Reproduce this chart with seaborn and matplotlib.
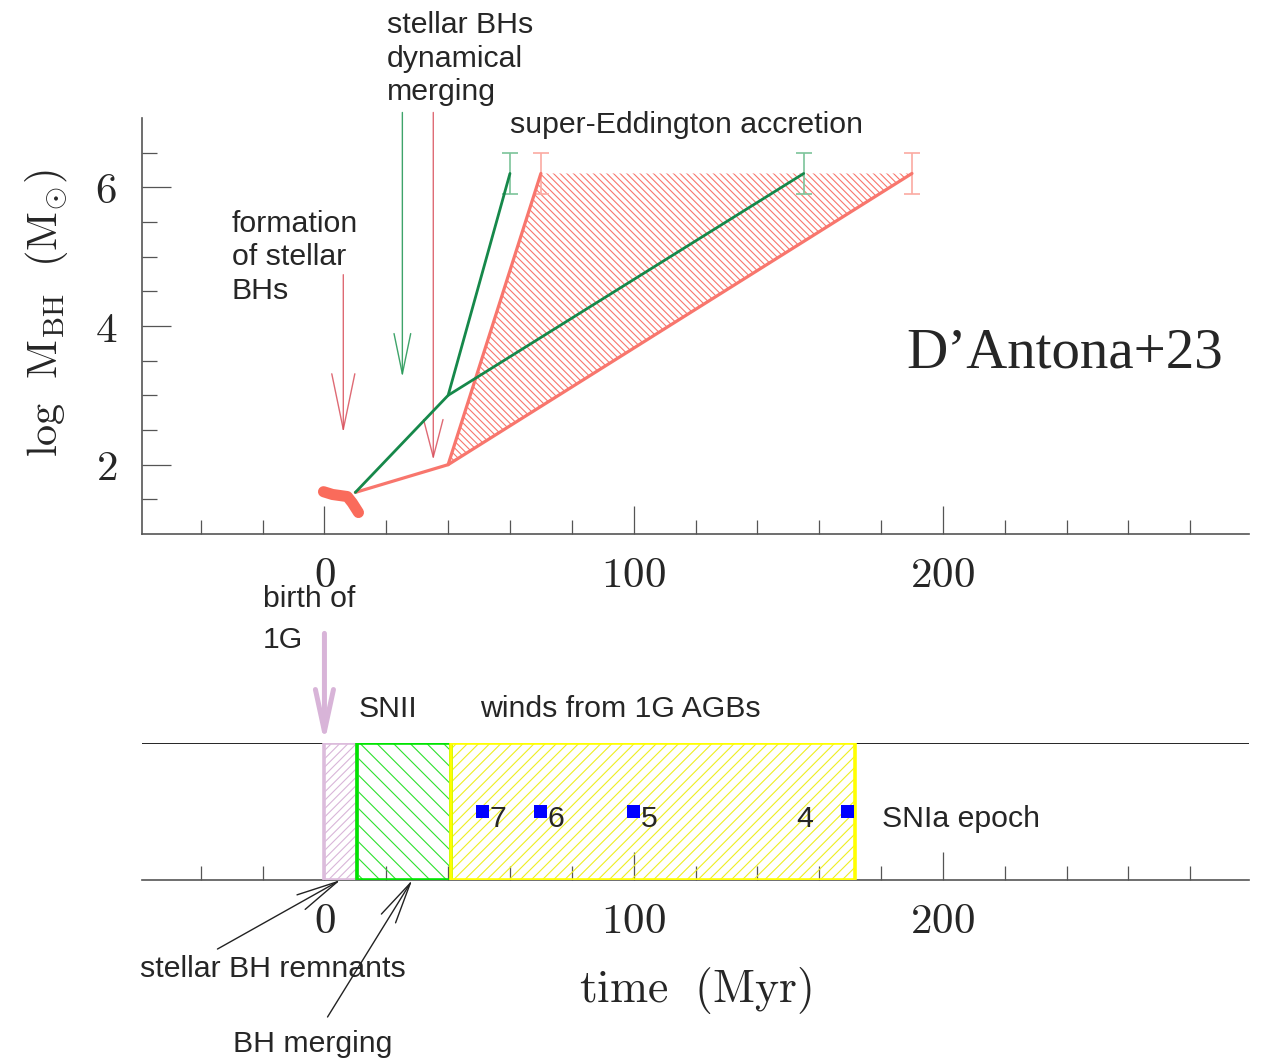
import numpy as np
import pandas as pd
import matplotlib
matplotlib.use("Agg")
import matplotlib.pyplot as plt
import seaborn as sns
from matplotlib.patches import Polygon, Rectangle
from matplotlib.ticker import FixedLocator, FixedFormatter

# ---------------- data ----------------
green_fast_t = [10, 40, 60]
green_fast_logm = [1.6, 3.0, 6.2]
green_slow_t = [40, 155]
green_slow_logm = [3.0, 6.2]
red_fast_t = [10, 40, 70]
red_fast_logm = [1.6, 2.0, 6.2]
red_slow_t = [40, 190]
red_slow_logm = [2.0, 6.2]
blob_t = [-0.3, 2.6, 7.4, 9.0, 11.0]
blob_logm = [1.61, 1.57, 1.54, 1.45, 1.31]
green_end_t = [60, 155]
red_end_t = [70, 190]
end_logm = 6.2
end_err = 0.3

phase_start = [0, 10.5, 41]
phase_end = [10.5, 41, 171.5]

agb_mass = ["7", "6", "5", "4"]
agb_time = [51, 70, 100, 169]
agb_level = [0.5, 0.5, 0.5, 0.5]

x_major = [0, 100, 200]
x_labels = ["0", "100", "200"]
y_major = [2, 4, 6]
y_labels = ["2", "4", "6"]

# ---------------- style ----------------
sns.set_style("ticks")
plt.rcParams["font.family"] = ["Liberation Sans", "DejaVu Sans"]
plt.rcParams["mathtext.fontset"] = "cm"
plt.rcParams["hatch.linewidth"] = 0.8

W, H = 1263, 1059
def fpos(px, py):
    return px / W, 1 - py / H

SANS = ["Liberation Sans", "DejaVu Sans"]
FS = 21.8
TICKFS = 31

RED = "#f8766d"
GREEN = "#16884a"
AXC = "#555555"

fig = plt.figure(figsize=(W / 100, H / 100), dpi=100)
ax1 = fig.add_axes([142 / W, 1 - 534 / H, (1249 - 142) / W, (534 - 118) / H])
ax2 = fig.add_axes([142 / W, 1 - 880 / H, (1249 - 142) / W, (880 - 743) / H])

for ax in (ax1, ax2):
    ax.set_xlim(-59, 299)
    ax.set_facecolor("white")
    ax.xaxis.set_major_locator(FixedLocator(x_major))
    ax.xaxis.set_major_formatter(FixedFormatter(["$%s$" % s for s in x_labels]))
    ax.xaxis.set_minor_locator(FixedLocator([v for v in range(-40, 300, 20) if v not in x_major]))
    ax.tick_params(axis="x", which="major", direction="in", length=20, width=0.9,
                   color=AXC, labelsize=TICKFS, pad=16)
    ax.tick_params(axis="x", which="minor", direction="in", length=10, width=0.9, color=AXC)
    ax.spines["top"].set_visible(False)
    ax.spines["right"].set_visible(False)
    ax.spines["bottom"].set_color(AXC)
    ax.spines["bottom"].set_linewidth(1.2)

# ---------------- top panel ----------------
ax1.set_ylim(1, 7)
ax1.yaxis.set_major_locator(FixedLocator(y_major))
ax1.yaxis.set_major_formatter(FixedFormatter(["$%s$" % s for s in y_labels]))
ax1.yaxis.set_minor_locator(FixedLocator([1.5, 2.5, 3, 3.5, 4.5, 5, 5.5, 6.5]))
ax1.tick_params(axis="y", which="major", direction="in", length=21, width=0.9,
                color=AXC, labelsize=TICKFS, pad=18)
ax1.tick_params(axis="y", which="minor", direction="in", length=11, width=0.9, color=AXC)
ax1.spines["left"].set_color(AXC)
ax1.spines["left"].set_linewidth(1.2)

tri = np.column_stack([[red_fast_t[1], red_fast_t[2], red_slow_t[1]],
                       [red_fast_logm[1], red_fast_logm[2], red_slow_logm[1]]])
ax1.add_patch(Polygon(tri, closed=True, facecolor="none", edgecolor=RED,
                      hatch="\\\\\\\\\\", linewidth=0, zorder=1))

ax1.errorbar(green_end_t, [end_logm] * len(green_end_t), yerr=end_err, fmt="none",
             ecolor="#7cc49a", elinewidth=1.2, capsize=6, capthick=1.2, zorder=2)
ax1.errorbar(red_end_t, [end_logm] * len(red_end_t), yerr=end_err, fmt="none",
             ecolor="#fbaaa2", elinewidth=1.2, capsize=6, capthick=1.2, zorder=2)

sns.lineplot(x=red_fast_t, y=red_fast_logm, ax=ax1, color=RED, lw=2.3,
             sort=False, estimator=None, legend=False, zorder=3)
sns.lineplot(x=red_slow_t, y=red_slow_logm, ax=ax1, color=RED, lw=2.3,
             sort=False, estimator=None, legend=False, zorder=3)
sns.lineplot(x=green_fast_t, y=green_fast_logm, ax=ax1, color=GREEN, lw=2.0,
             sort=False, estimator=None, legend=False, zorder=4)
sns.lineplot(x=green_slow_t, y=green_slow_logm, ax=ax1, color=GREEN, lw=2.0,
             sort=False, estimator=None, legend=False, zorder=4)
sns.lineplot(x=blob_t, y=blob_logm, ax=ax1, color="#fa6b5b", lw=8,
             sort=False, estimator=None, legend=False, zorder=5,
             solid_capstyle="round", solid_joinstyle="round")
ax1.set_xlabel("")
ax1.set_ylabel("")

def arrow(ax, tail, tip, color, lw, hl, hw, alpha=1.0):
    ax.annotate("", xy=tip, xytext=tail, annotation_clip=False,
                arrowprops=dict(arrowstyle="->,head_length=%g,head_width=%g" % (hl, hw),
                                color=color, lw=lw, shrinkA=0, shrinkB=0,
                                mutation_scale=1, alpha=alpha))

arrow(ax1, (6.1, 4.74), (6.1, 2.46), "#d9505c", 1.0, 40, 8.3, 0.85)
arrow(ax1, (25.2, 7.08), (25.2, 3.26), "#2a9a5a", 1.0, 29, 6.0, 0.9)
arrow(ax1, (35.2, 7.08), (35.2, 2.07), "#d9505c", 1.0, 27, 7.0, 0.85)

# ---------------- bottom panel ----------------
ax2.set_ylim(0, 1)
ax2.set_yticks([])
ax2.spines["left"].set_visible(False)
ax2.axhline(1, color="black", lw=1.2, zorder=0.5)

box_hatch = ["////", "\\\\", "///"]
box_hatch_col = ["#d9b6d9", "#2ee02e", "#eeee22"]
box_edge_col = ["#dcbcdc", "#00e400", "#ffff00"]
for s, e, hch, hc, ec in zip(phase_start, phase_end, box_hatch, box_hatch_col, box_edge_col):
    ax2.add_patch(Rectangle((s, 0), e - s, 1, facecolor="none", edgecolor=hc,
                            hatch=hch, linewidth=0, zorder=3))
    ax2.add_patch(Rectangle((s, 0), e - s, 1, facecolor="none", edgecolor=ec,
                            linewidth=2.6, zorder=3.2))

sns.scatterplot(x=agb_time, y=agb_level, ax=ax2, marker="s", s=88, color="#0000ff",
                edgecolor="none", legend=False, zorder=5)
ax2.set_xlabel("")
ax2.set_ylabel("")
for m, t, lv in zip(agb_mass, agb_time, agb_level):
    if m == "4":
        ax2.annotate(m, xy=(t, lv), xytext=(-24.5, -11), textcoords="offset points",
                     ha="right", va="baseline", fontsize=FS, family=SANS)
    else:
        ax2.annotate(m, xy=(t, lv), xytext=(5, -11), textcoords="offset points",
                     ha="left", va="baseline", fontsize=FS, family=SANS)

arrow(ax2, (0, 1.80), (0, 1.0), "#d8b4d8", 3.6, 30, 6.5)
arrow(ax2, (-34.6, -0.504), (5.2, 0.0), "#222222", 1.0, 30, 6.0)
arrow(ax2, (1.0, -1.0), (28.4, 0.0), "#222222", 1.0, 30, 6.0)

# ---------------- texts ----------------
def ftext(px, py, s, **kw):
    kw.setdefault("fontsize", FS)
    kw.setdefault("family", SANS)
    fig.text(*fpos(px, py), s, va="baseline", ha=kw.pop("ha", "left"), **kw)

ftext(387, 33, "stellar BHs")
ftext(387, 67, "dynamical")
ftext(387, 100, "merging")
ftext(510, 133, "super-Eddington accretion")
ftext(232, 232, "formation")
ftext(232, 265, "of stellar")
ftext(232, 299, "BHs")
ftext(263, 607, "birth of")
ftext(263, 648, "1G")
ftext(359, 717, "SNII")
ftext(480, 717, "winds from 1G AGBs")
ftext(882, 827, "SNIa epoch")
ftext(140, 977, "stellar BH remnants")
ftext(233, 1052, "BH merging")
ftext(906, 367, "D\u2019Antona+23", fontsize=41, family=["Liberation Serif", "DejaVu Serif"])

fig.text(*fpos(696, 990), r"$\mathrm{time\ \ (Myr)}$", fontsize=33, ha="center", va="center")
fig.text(*fpos(47, 313), r"$\mathrm{log}\ \ \mathrm{M}_{\mathrm{BH}}\ \ (\mathrm{M}_{\odot})$",
         fontsize=30.5, rotation=90, ha="center", va="center")

fig.savefig("out.png", dpi=100, facecolor="white")
